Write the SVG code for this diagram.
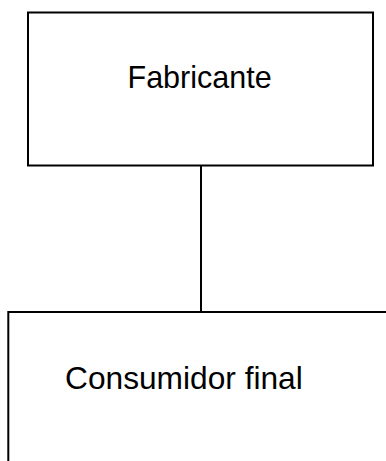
<svg xmlns="http://www.w3.org/2000/svg" width="386" height="461" viewBox="0 0 386 461">
<style>
.box{fill:#fff;stroke:#000;stroke-width:2}
.lbl{font-family:"Liberation Sans",Arial,sans-serif;font-size:30.5px;fill:#000}
.big{font-size:31.7px}
.conn{stroke:#000;stroke-width:2;fill:none}
</style>
<rect width="386" height="461" fill="#fff"/>
<g id="connectors">
<line class="conn" x1="201" y1="166" x2="201" y2="312"/>
</g>
<g id="fabricante">
<rect class="box" x="28" y="12.5" width="345" height="153"/>
<text class="lbl" x="127.5" y="88.3">Fabricante</text>
</g>
<g id="consumidor">
<rect class="box" x="8.3" y="312" width="400" height="200"/>
<text class="lbl big" x="65" y="389">Consumidor final</text>
</g>
</svg>
